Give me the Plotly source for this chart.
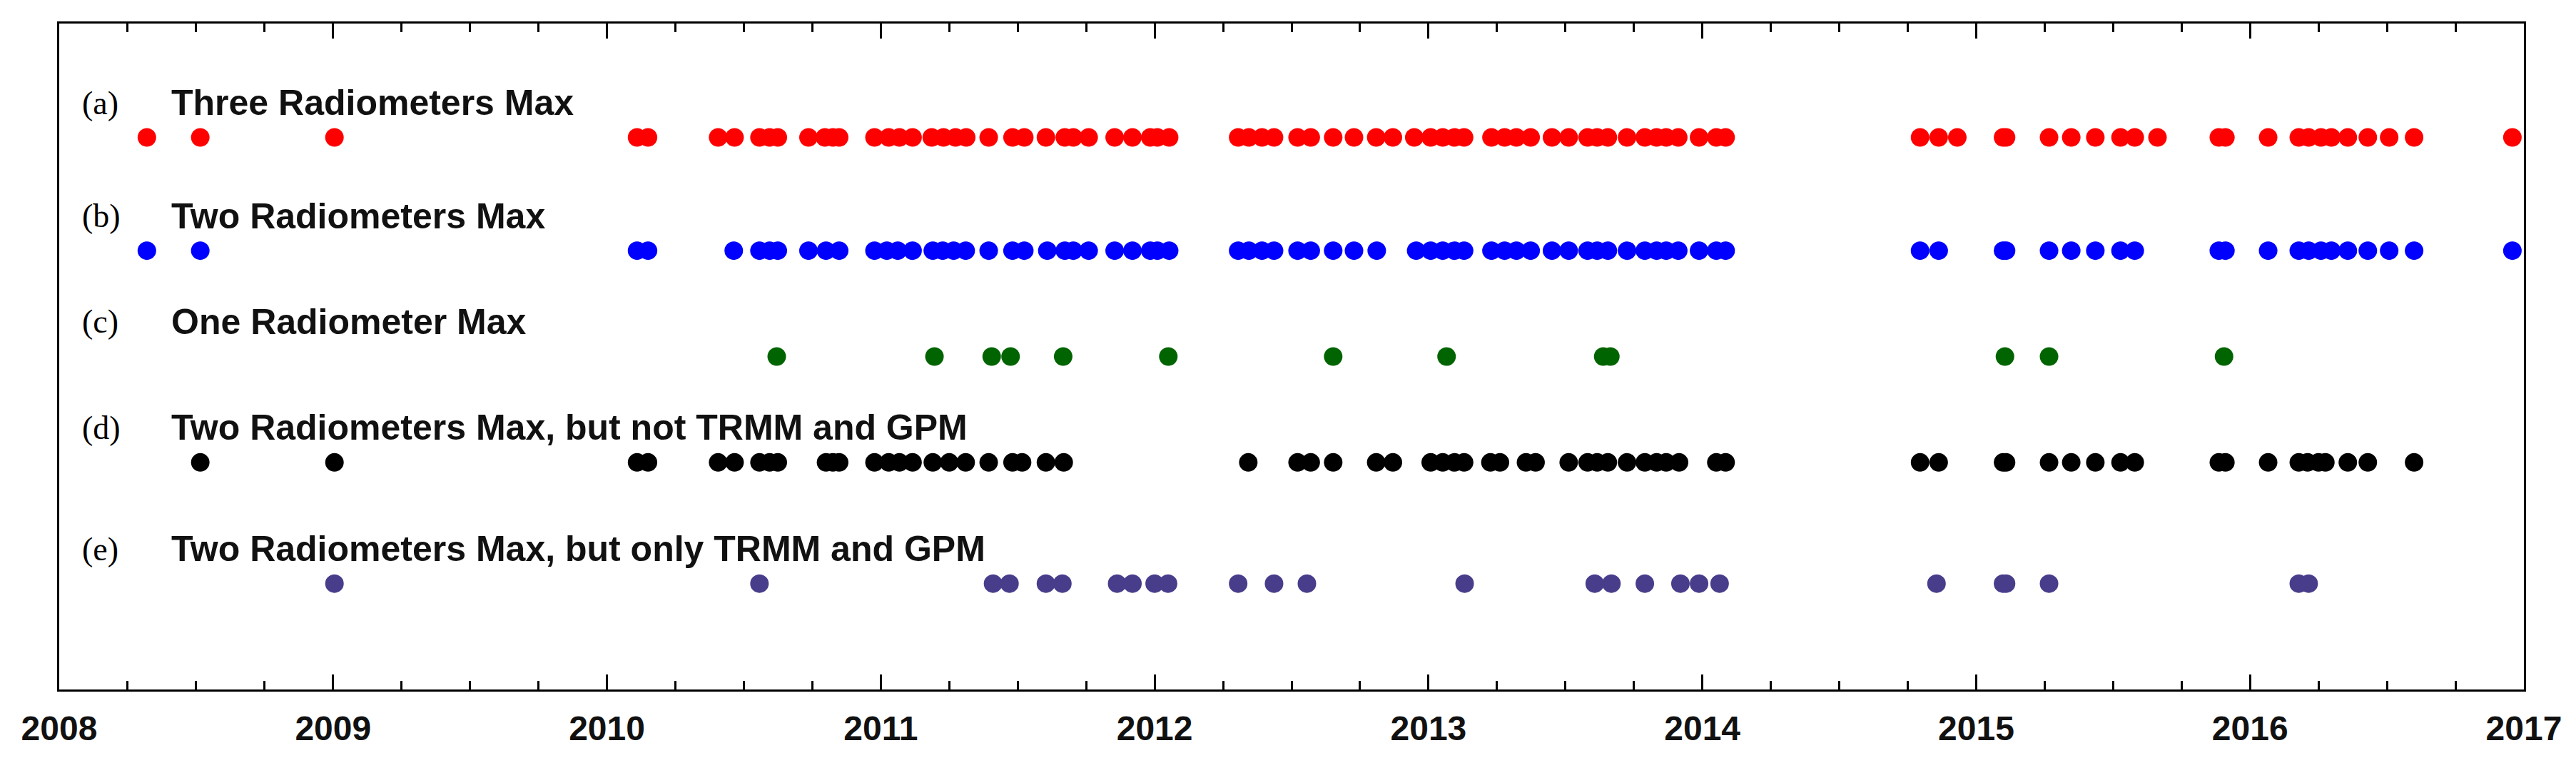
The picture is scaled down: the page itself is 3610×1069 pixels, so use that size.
import plotly.graph_objects as go

# decimal-year dates of each event
three_max = [
    2008.32, 2008.515, 2009.005, 2010.11, 2010.15,
    2010.406, 2010.466, 2010.557, 2010.594, 2010.624, 2010.736, 2010.796, 2010.825, 2010.848,
    2010.977, 2011.029, 2011.068, 2011.116, 2011.186, 2011.229, 2011.273, 2011.312, 2011.394,
    2011.481, 2011.524, 2011.603, 2011.672, 2011.703, 2011.759, 2011.854, 2011.919, 2011.984,
    2012.010, 2012.053,
    2012.305, 2012.344, 2012.392, 2012.436, 2012.522, 2012.570, 2012.652, 2012.728, 2012.809,
    2012.870, 2012.948, 2013.008, 2013.052, 2013.095, 2013.130, 2013.230, 2013.278, 2013.321,
    2013.373, 2013.451, 2013.512, 2013.581, 2013.616, 2013.655, 2013.725, 2013.790, 2013.833,
    2013.868, 2013.912, 2013.988, 2014.051, 2014.085,
    2014.795, 2014.863, 2014.931, 2015.098, 2015.109, 2015.266, 2015.347, 2015.435, 2015.527,
    2015.579, 2015.662, 2015.886, 2015.910, 2016.066, 2016.178, 2016.214, 2016.259, 2016.297,
    2016.357, 2016.430, 2016.508, 2016.599, 2016.958,
]
two_max = [
    2008.32, 2008.515, 2010.11, 2010.15,
    2010.463, 2010.557, 2010.594, 2010.624, 2010.736, 2010.80, 2010.848,
    2010.977, 2011.022, 2011.062, 2011.116, 2011.19, 2011.226, 2011.266, 2011.31, 2011.394,
    2011.481, 2011.524, 2011.608, 2011.672, 2011.703, 2011.759, 2011.854, 2011.919, 2011.984,
    2012.010, 2012.053,
    2012.305, 2012.344, 2012.392, 2012.436, 2012.522, 2012.570, 2012.652, 2012.728, 2012.811,
    2012.955, 2013.008, 2013.052, 2013.095, 2013.130, 2013.230, 2013.278, 2013.321, 2013.373,
    2013.451, 2013.512, 2013.581, 2013.616, 2013.655, 2013.725, 2013.790, 2013.833, 2013.868,
    2013.912, 2013.988, 2014.051, 2014.085,
    2014.795, 2014.863, 2015.098, 2015.109, 2015.266, 2015.347, 2015.435, 2015.527, 2015.579,
    2015.886, 2015.910, 2016.066, 2016.178, 2016.214, 2016.259, 2016.297, 2016.357, 2016.430,
    2016.508, 2016.599, 2016.958,
]
one_max = [
    2010.620, 2011.196, 2011.405, 2011.474, 2011.666, 2012.050, 2012.652, 2013.066,
    2013.638, 2013.664, 2015.105, 2015.266, 2015.905,
]
two_not_trmm_gpm = [
    2008.515, 2009.005, 2010.11, 2010.15,
    2010.406, 2010.466, 2010.557, 2010.594, 2010.624, 2010.80, 2010.825, 2010.848,
    2010.977, 2011.029, 2011.068, 2011.116, 2011.19, 2011.25, 2011.31, 2011.394, 2011.481,
    2011.516, 2011.603, 2011.668,
    2012.342, 2012.522, 2012.570, 2012.652, 2012.809, 2012.870, 2013.008, 2013.052, 2013.095,
    2013.130, 2013.226, 2013.261, 2013.356, 2013.391, 2013.512, 2013.581, 2013.616, 2013.655,
    2013.725, 2013.790, 2013.833, 2013.868, 2013.915, 2014.051, 2014.085,
    2014.795, 2014.863, 2015.098, 2015.109, 2015.266, 2015.347, 2015.435, 2015.527, 2015.579,
    2015.886, 2015.910, 2016.066, 2016.178, 2016.21, 2016.25, 2016.275, 2016.357, 2016.430,
    2016.599,
]
two_only_trmm_gpm = [
    2009.005, 2010.557, 2011.41, 2011.47, 2011.603, 2011.663, 2011.863, 2011.919, 2012.0,
    2012.049, 2012.305, 2012.436, 2012.556, 2013.132, 2013.607, 2013.668, 2013.79, 2013.92,
    2013.988, 2014.063, 2014.855, 2015.098, 2015.109, 2015.266, 2016.178, 2016.214,
]

panel_tags = ["(a)", "(b)", "(c)", "(d)", "(e)"]
panel_titles = [
    "Three Radiometers Max",
    "Two Radiometers Max",
    "One Radiometer Max",
    "Two Radiometers Max, but not TRMM and GPM",
    "Two Radiometers Max, but only TRMM and GPM",
]
year_ticks = list(range(2008, 2018))

series = [three_max, two_max, one_max, two_not_trmm_gpm, two_only_trmm_gpm]
colors = ["#ff0000", "#0000ff", "#006400", "#000000", "#483d8b"]
row_level = [0.171, 0.341, 0.500, 0.659, 0.841]   # fraction from top of plot area

fig = go.Figure()

for dates, color, level in zip(series, colors, row_level):
    fig.add_trace(go.Scatter(
        x=dates, y=[level] * len(dates),
        mode="markers",
        marker=dict(color=color, size=26, line=dict(width=0)),
        showlegend=False, hoverinfo="x",
    ))

# row captions
for tag, title, level in zip(panel_tags, panel_titles, row_level):
    fig.add_annotation(
        x=0.0087, xref="paper", y=level - 0.052, yref="y",
        text=tag, showarrow=False, xanchor="left", yanchor="middle",
        font=dict(family="Liberation Serif", size=46, color="#000000"),
    )
    fig.add_annotation(
        x=0.0450, xref="paper", y=level - 0.052, yref="y",
        text=title, showarrow=False, xanchor="left", yanchor="middle",
        font=dict(family="Liberation Sans", size=50, color="#111111", weight="bold"),
    )

fig.update_xaxes(
    range=[2008, 2017],
    tickvals=year_ticks,
    tickformat="d",
    ticks="inside", ticklen=21, tickwidth=2.5, tickcolor="#000000",
    minor=dict(dtick=0.25, tick0=2008, ticks="inside", ticklen=12, tickwidth=2.5,
               tickcolor="#000000", showgrid=False),
    showline=True, linewidth=3, linecolor="#000000", mirror="allticks",
    showgrid=False, zeroline=False,
    tickfont=dict(family="Liberation Sans", size=48, color="#111111", weight="bold"),
    ticklabelstandoff=10,
)
fig.update_yaxes(
    range=[1, 0],
    showticklabels=False, ticks="",
    showline=True, linewidth=3, linecolor="#000000", mirror=True,
    showgrid=False, zeroline=False,
)

# the page body adds an 8px margin, so the figure is 16px smaller than the window
fig.update_layout(
    width=3594, height=1053,
    margin=dict(l=75, r=62, t=25, b=95),
    plot_bgcolor="white", paper_bgcolor="white",
    font=dict(family="Liberation Sans", color="#000000"),
)

fig.write_html("out.html")
